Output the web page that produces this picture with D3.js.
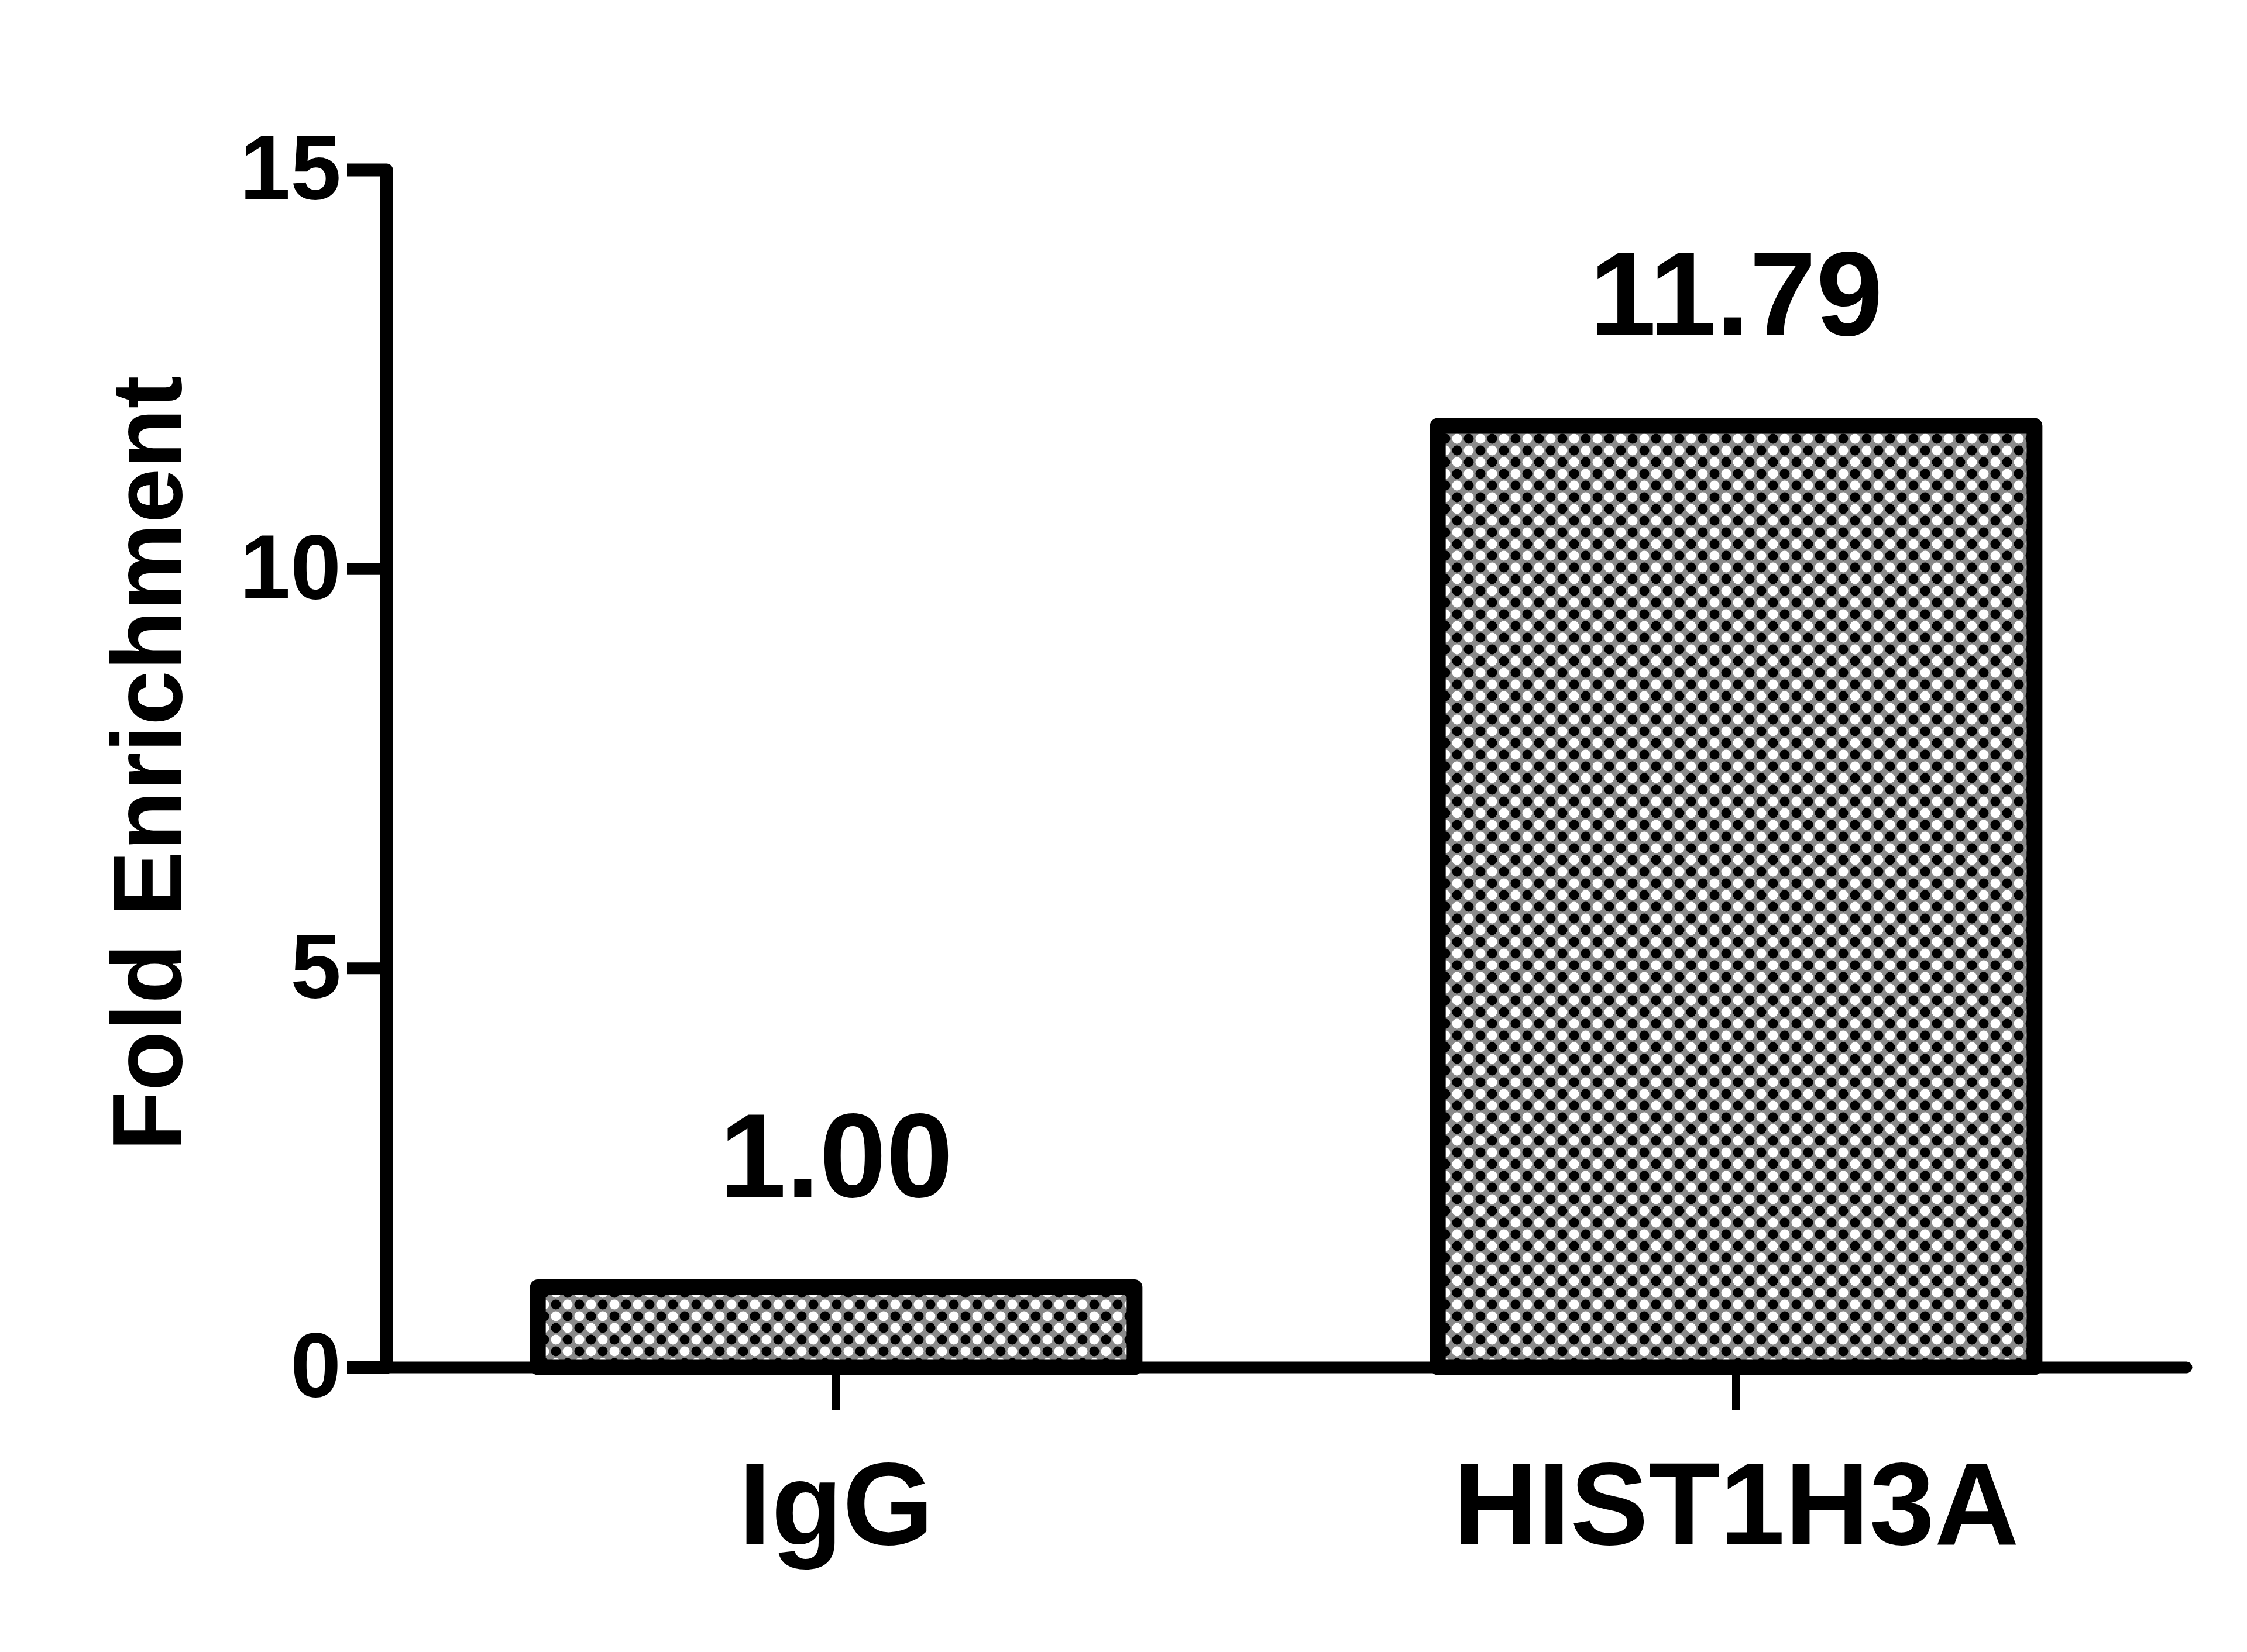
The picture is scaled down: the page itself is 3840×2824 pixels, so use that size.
<!DOCTYPE html>
<html>
<head>
<meta charset="utf-8">
<script src="https://d3js.org/d3.v7.min.js"></script>
<style>
  body { margin: 0; background: #fff; }
  svg { display: block; font-family: "Liberation Sans", Arial, sans-serif; font-weight: bold; }
</style>
</head>
<body>
<svg width="3840" height="2824"></svg>
<script>
// data
var categories = ["IgG", "HIST1H3A"];
var values = [1.00, 11.79];
var valueLabels = ["1.00", "11.79"];
var yTicks = [0, 5, 10, 15];
var yTitle = "Fold Enrichment";

var svg = d3.select("svg"),
    plotLeft = 660, plotRight = 3736, plotTop = 290, plotBottom = 2337;

// x : two bands, bars about 2/3 of a step
var x = d3.scaleBand()
    .domain(categories)
    .range([plotLeft, plotRight])
    .paddingInner(0.337)
    .paddingOuter(0.1685);

var y = d3.scaleLinear()
    .domain([0, 15])
    .range([plotBottom, plotTop]);

// dotted grey fill (blurred checkerboard of dots)
var pat = svg.append("defs").append("pattern")
    .attr("id", "dots")
    .attr("patternUnits", "userSpaceOnUse")
    .attr("width", 40)
    .attr("height", 40);
pat.append("rect").attr("width", 40).attr("height", 40).attr("fill", "#8a8a8a");
[[10, 10], [30, 30]].forEach(function(p) {
  pat.append("circle").attr("cx", p[0]).attr("cy", p[1]).attr("r", 8.5).attr("fill", "#000");
});
[[30, 10], [10, 30]].forEach(function(p) {
  pat.append("circle").attr("cx", p[0]).attr("cy", p[1]).attr("r", 8.5).attr("fill", "#fff");
});

// bars
svg.append("g")
    .selectAll("rect")
    .data(values)
    .enter().append("rect")
    .attr("x", function(d, i) { return x(categories[i]); })
    .attr("y", function(d) { return y(d); })
    .attr("width", x.bandwidth())
    .attr("height", function(d) { return y(0) - y(d); })
    .attr("fill", "url(#dots)")
    .attr("stroke", "#000")
    .attr("stroke-width", 27)
    .attr("stroke-linejoin", "round");

// value labels
svg.append("g")
    .selectAll("text")
    .data(values)
    .enter().append("text")
    .attr("x", function(d, i) { return x(categories[i]) + x.bandwidth() / 2; })
    .attr("y", function(d) { return y(d) - 155; })
    .attr("text-anchor", "middle")
    .attr("font-size", 205)
    .attr("fill", "#000")
    .text(function(d, i) { return valueLabels[i]; });

// axe Y
var gy = svg.append("g")
    .attr("transform", "translate(" + plotLeft + ",0)")
    .call(d3.axisLeft(y).tickValues(yTicks).tickSize(67).tickPadding(10).tickFormat(d3.format("d")));
gy.attr("font-family", null).attr("font-size", null);
gy.select(".domain")
    .attr("stroke", "#000")
    .attr("stroke-width", 22)
    .attr("stroke-linejoin", "round")
    .attr("fill", "none");
gy.selectAll(".tick line").attr("stroke", "#000").attr("stroke-width", 20);
gy.selectAll(".tick text")
    .attr("font-size", 156)
    .attr("fill", "#000");

// axe X
var gx = svg.append("g")
    .attr("transform", "translate(0," + plotBottom + ")")
    .call(d3.axisBottom(x).tickSize(73).tickSizeOuter(0));
gx.attr("font-family", null).attr("font-size", null);
gx.select(".domain")
    .attr("stroke", "#000")
    .attr("stroke-width", 20)
    .attr("stroke-linecap", "round");
gx.selectAll(".tick line").attr("stroke", "#000").attr("stroke-width", 14);
gx.selectAll(".tick text")
    .attr("y", 303)
    .attr("dy", 0)
    .attr("font-size", 200)
    .attr("fill", "#000");

// titre axe Y
svg.append("text")
    .attr("transform", "translate(310,1305) rotate(-90)")
    .attr("text-anchor", "middle")
    .attr("font-size", 168)
    .attr("fill", "#000")
    .text(yTitle);
</script>
</body>
</html>
